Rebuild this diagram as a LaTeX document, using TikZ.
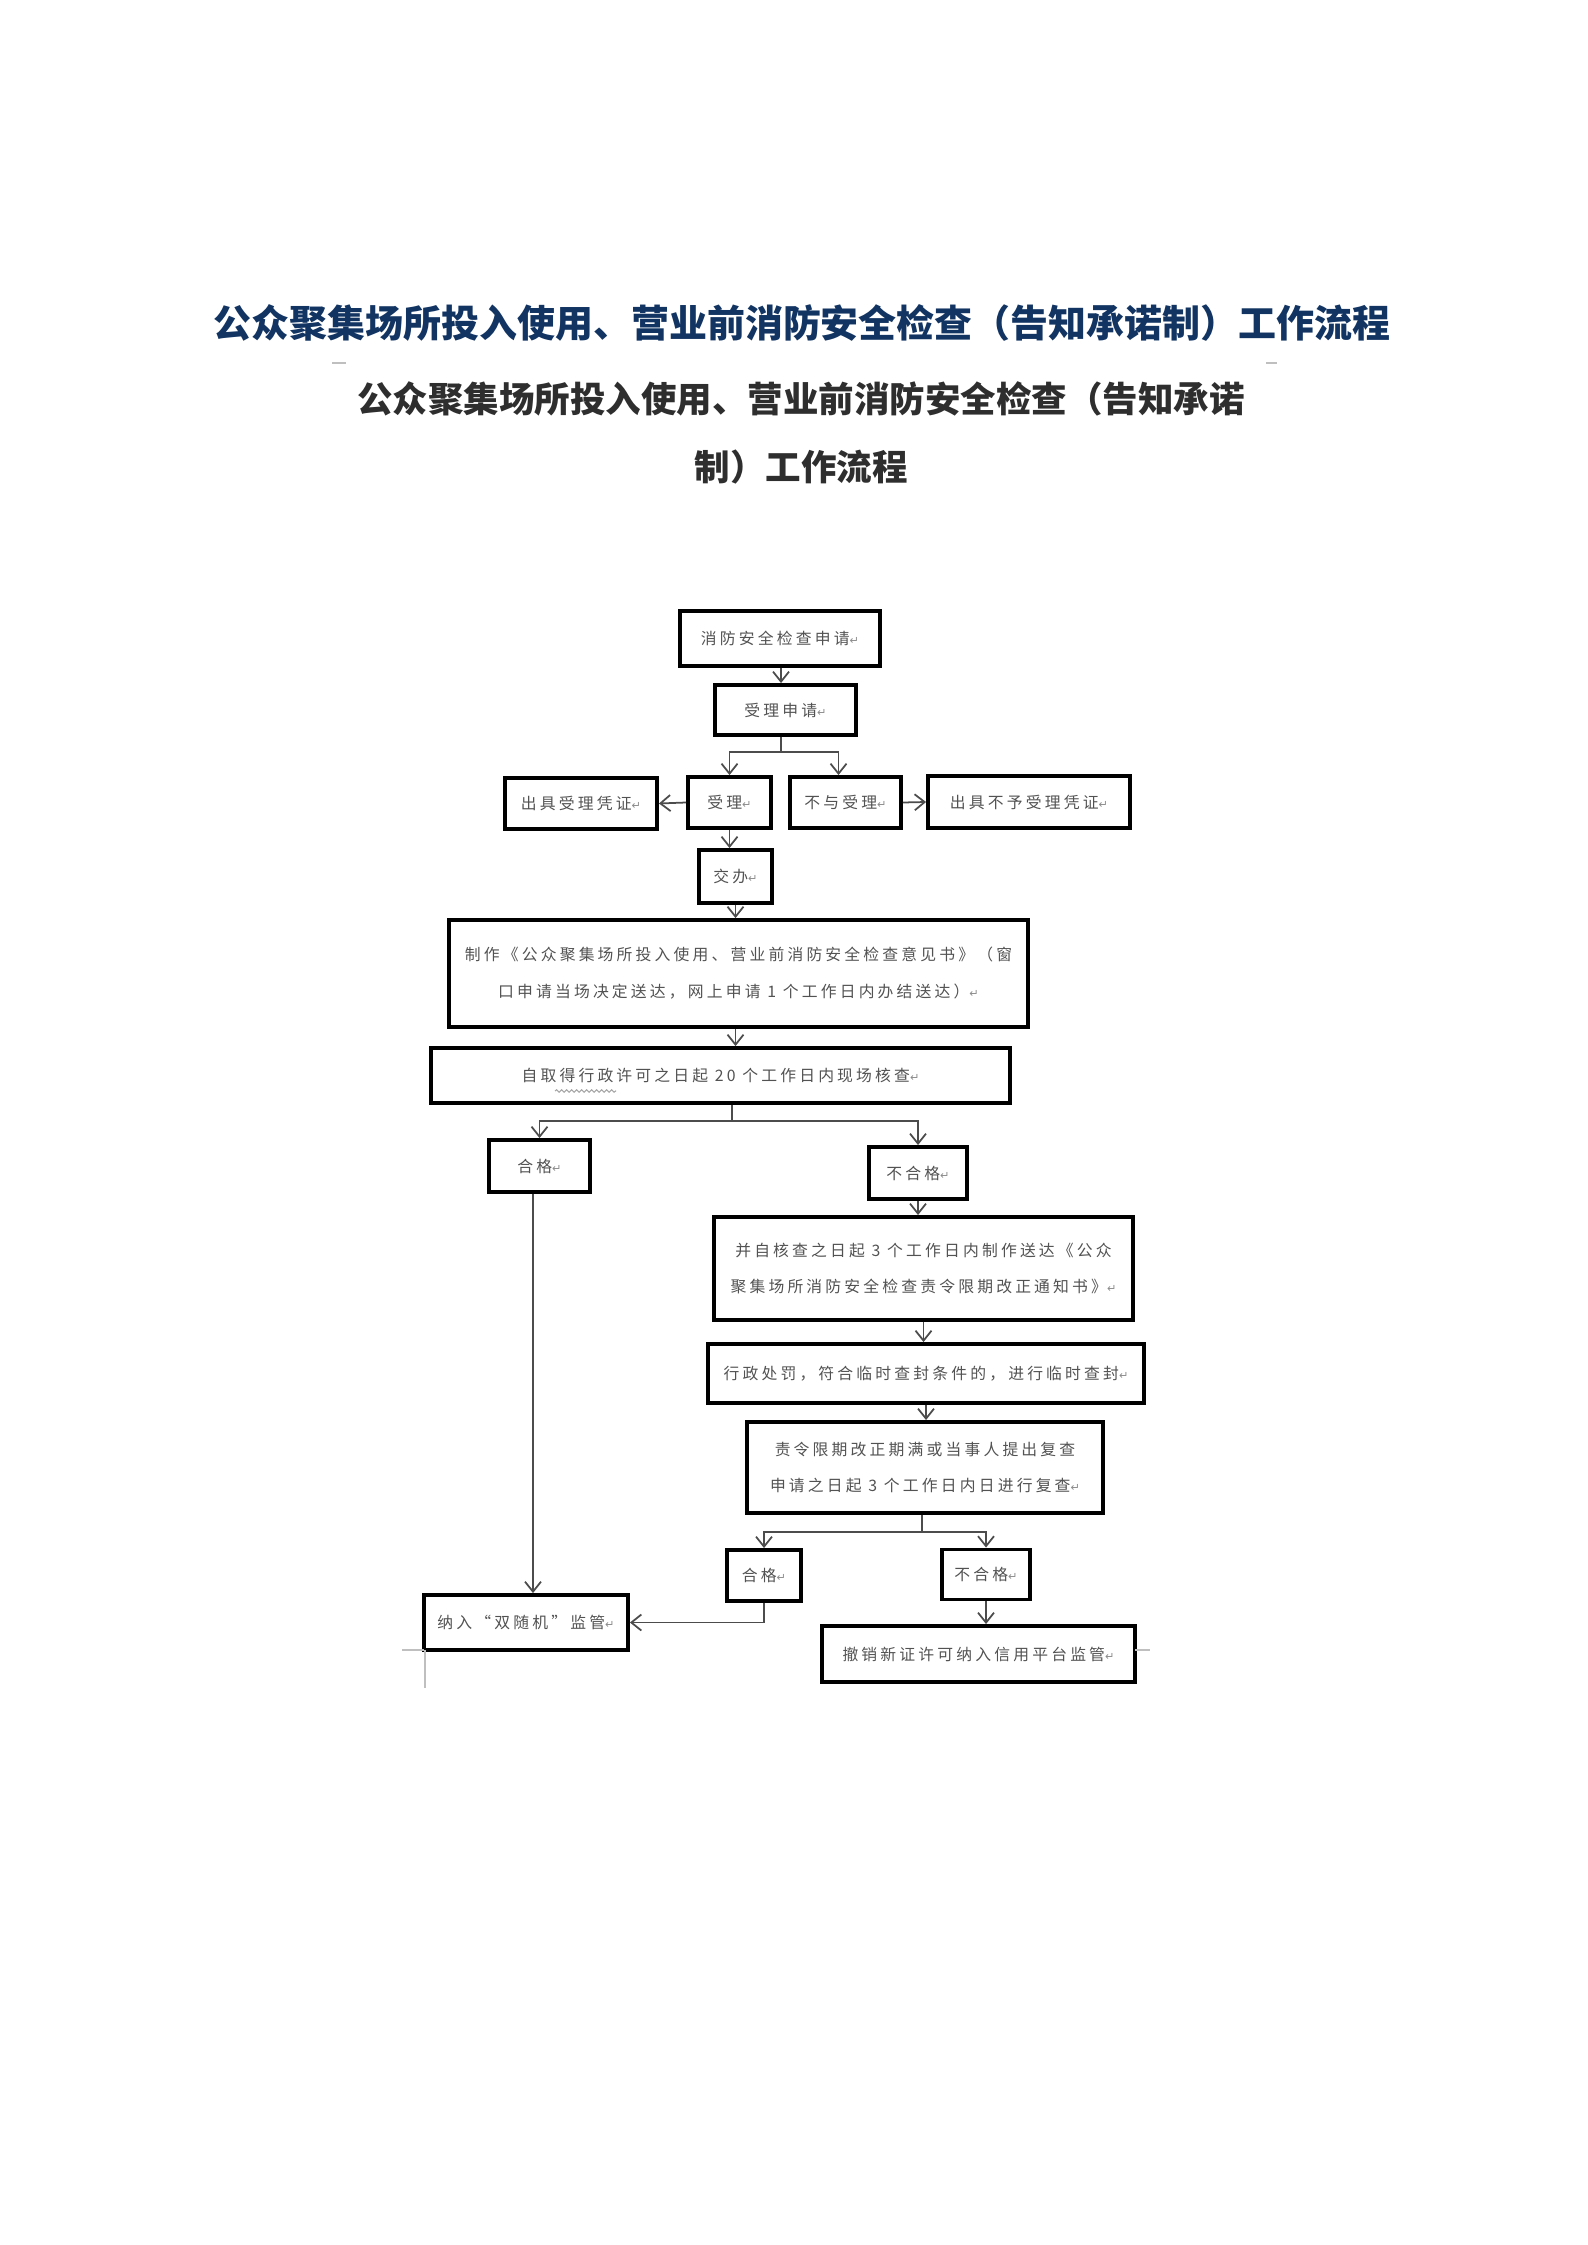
\documentclass[tikz,border=0pt]{standalone}
\usepackage{fontspec}
\usetikzlibrary{arrows.meta,decorations.pathmorphing}
\newfontfamily\cjk{Noto Sans CJK SC}
\newfontfamily\boxfont{Noto Sans CJK SC}[LetterSpace=20]
\newfontfamily\arrowfont{DejaVu Sans}
\definecolor{titleblue}{RGB}{18,52,98}
\newcommand\pmk{{\arrowfont\fontsize{3.2pt}{4pt}\selectfont\color{black!45}↵}}
\tikzset{
  box/.style={draw, line width=1.1pt, inner sep=0pt, align=center, text=black!68,
    font=\boxfont\fontsize{4.5pt}{10.5pt}\selectfont},
  link/.style={draw=black!70, line width=0.5pt},
  arr/.style={link, -{Straight Barb[length=1mm,width=1.6mm]}},
  cropline/.style={black!25, line width=0.4pt}
}
\begin{document}
\begin{tikzpicture}[x=0.1mm, y=-0.1mm]
\useasboundingbox (0,0) rectangle (1587,2245);
% titles
\node[text=titleblue, font=\cjk\bfseries\fontsize{10.8pt}{12pt}\selectfont] (title) at (802,323)
  {公众聚集场所投入使用、营业前消防安全检查（告知承诺制）工作流程};
\node[align=center, text=black!82, font=\cjk\bfseries\fontsize{10.1pt}{19.3pt}\selectfont] (doctitle) at (801,433)
  {公众聚集场所投入使用、营业前消防安全检查（告知承诺\\制）工作流程};
\draw[cropline] (332,363) -- (346,363);
\draw[cropline] (1266,363) -- (1277,363);
% boxes
\node[box, minimum width=20mm, minimum height=5.5mm] (apply) at (780,638.5) {消防安全检查申请\pmk};
\node[box, minimum width=14.1mm, minimum height=5mm] (accept) at (785.5,710) {受理申请\pmk};
\node[box, minimum width=8.3mm, minimum height=5.1mm] (yes) at (729.5,802.5) {受理\pmk};
\node[box, minimum width=11.1mm, minimum height=5.1mm] (no) at (845.5,802.5) {不与受理\pmk};
\node[box, minimum width=15.2mm, minimum height=5.1mm] (receipt) at (581,803.5) {出具受理凭证\pmk};
\node[box, minimum width=20.2mm, minimum height=5.2mm] (noreceipt) at (1029,802) {出具不予受理凭证\pmk};
\node[box, minimum width=7.3mm, minimum height=5.3mm] (assign) at (735.5,876.5) {交办\pmk};
\node[box, minimum width=57.9mm, minimum height=10.7mm] (make) at (738.5,973.5)
  {制作《公众聚集场所投入使用、营业前消防安全检查意见书》（窗\\口申请当场决定送达，网上申请 1 个工作日内办结送达）\pmk};
\node[box, minimum width=57.9mm, minimum height=5.5mm] (check) at (720.5,1075.5)
  {自取得行政许可之日起 20 个工作日内现场核查\pmk};
\node[box, minimum width=10.1mm, minimum height=5.2mm] (pass) at (539.5,1166) {合格\pmk};
\node[box, minimum width=9.8mm, minimum height=5.2mm] (fail) at (918,1173) {不合格\pmk};
\node[box, minimum width=41.9mm, minimum height=10.3mm] (notice) at (923.5,1268.5)
  {并自核查之日起 3 个工作日内制作送达《公众\\聚集场所消防安全检查责令限期改正通知书》\pmk};
\node[box, minimum width=43.6mm, minimum height=5.9mm] (punish) at (926,1373.5)
  {行政处罚，符合临时查封条件的，进行临时查封\pmk};
\node[box, minimum width=35.6mm, minimum height=9.1mm] (recheck) at (925,1467.5)
  {责令限期改正期满或当事人提出复查\\申请之日起 3 个工作日内日进行复查\pmk};
\node[box, minimum width=7.4mm, minimum height=5.1mm] (pass2) at (764,1575.5) {合格\pmk};
\node[box, minimum width=8.8mm, minimum height=5mm] (fail2) at (986,1574.5) {不合格\pmk};
\node[box, minimum width=20.4mm, minimum height=5.5mm] (supervise) at (526,1622.5) {纳入“双随机”监管\pmk};
\node[box, minimum width=31.3mm, minimum height=5.6mm] (revoke) at (978.5,1654) {撤销新证许可纳入信用平台监管\pmk};
\draw[black!35, line width=0.3pt, decorate, decoration={snake, amplitude=0.12mm, segment length=0.5mm}]
  (555,1091) -- (616,1091);
% junctions
\coordinate (j1) at (781,752);
\coordinate (j2) at (732,1121);
\coordinate (j3) at (922,1532);
% connectors
\draw[arr] (apply.south -| j1) -- (accept.north -| j1);
\draw[link] (accept.south -| j1) -- (j1);
\draw[arr] (j1) -| (yes.north);
\draw[arr] ([xshift=-0.7mm]j1 -| no.north) -- ([xshift=-0.7mm]no.north);
\draw[link] (j1) -- ([xshift=-0.7mm]j1 -| no.north);
\draw[arr] (yes.west) -- (receipt.east);
\draw[arr] (no.east) -- (noreceipt.west);
\draw[arr] (yes.south) -- (yes.south |- assign.north);
\draw[arr] (assign.south) -- (assign.south |- make.north);
\draw[arr] (make.south -| assign.south) -- (check.north -| assign.south);
\draw[link] (check.south -| j2) -- (j2);
\draw[arr] (j2) -| (pass.north);
\draw[arr] (j2) -| (fail.north);
\draw[arr] ([xshift=-0.65mm]pass.south) -- ([xshift=-0.65mm]pass.south |- supervise.north);
\draw[arr] (fail.south) -- (fail.south |- notice.north);
\draw[arr] (notice.south) -- (notice.south |- punish.north);
\draw[arr] (punish.south) -- (punish.south |- recheck.north);
\draw[link] (recheck.south -| j3) -- (j3);
\draw[arr] (j3) -| (pass2.north);
\draw[arr] (j3) -| (fail2.north);
\draw[arr] (pass2.south) |- (supervise.east);
\draw[arr] (fail2.south) -- (fail2.south |- revoke.north);
% page marks
\draw[cropline] (402,1650) -- (424,1650) (425,1650) -- (425,1688);
\draw[cropline] (1135,1650) -- (1150,1650);
\end{tikzpicture}
\end{document}
